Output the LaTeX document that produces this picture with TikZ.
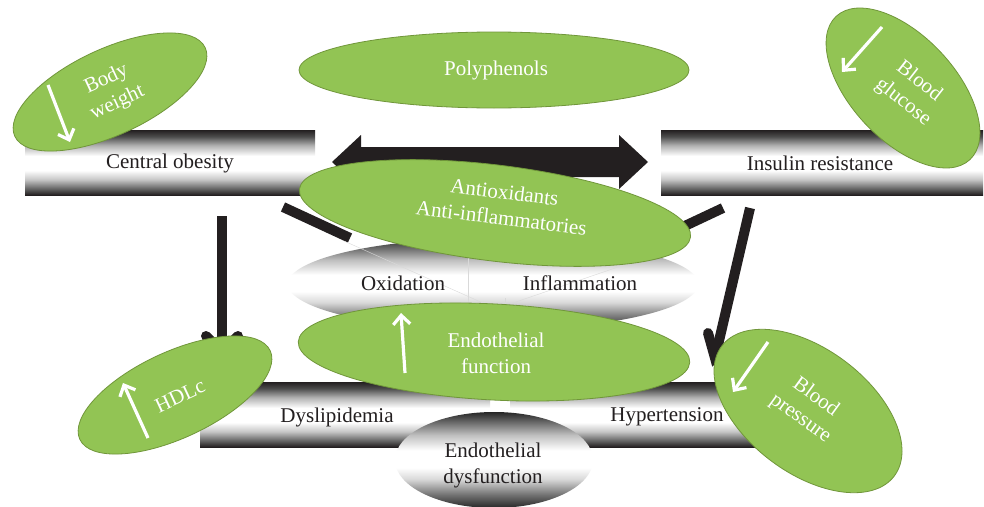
\documentclass[tikz,border=0pt]{standalone}
\usepackage{fontspec}
\setmainfont{Liberation Serif}
\usetikzlibrary{shapes.geometric,arrows.meta}
\definecolor{leaf}{RGB}{146,196,84}
\definecolor{leafedge}{RGB}{112,150,58}
\definecolor{ink}{RGB}{35,31,32}
\pgfdeclareverticalshading{barshade}{100bp}{color(0bp)=(ink); color(25bp)=(ink); color(30bp)=(black!60); color(37bp)=(black!22); color(44bp)=(white); color(55bp)=(white); color(63bp)=(black!30); color(70bp)=(black!70); color(75bp)=(ink); color(100bp)=(ink)}
\pgfdeclareverticalshading{ovalshade}{100bp}{color(0bp)=(black!85); color(25bp)=(black!85); color(32bp)=(black!55); color(40bp)=(black!15); color(46bp)=(white); color(55bp)=(white); color(63bp)=(black!25); color(70bp)=(black!60); color(75bp)=(black!85); color(100bp)=(black!85)}
\begin{document}
\begin{tikzpicture}[x=1pt,y=-1pt,
  txt/.style={font=\fontsize{21}{26}\selectfont, align=center, inner sep=0pt},
  wtxt/.style={txt, text=white},
  dtxt/.style={txt, text=ink},
  leafoval/.style={ellipse, fill=leaf, draw=leafedge, line width=0.8pt, inner sep=0pt},
  greyoval/.style={ellipse, shade, shading=ovalshade, inner sep=0pt},
  barbox/.style={rectangle, shade, shading=barshade, inner sep=0pt},
  conn/.style={line width=10pt, draw=ink},
  wing/.style={line width=10pt, draw=ink, line cap=round},
  wharrow/.style={draw=white, line width=3.2pt, -{Straight Barb[length=9pt,width=17pt]}},
  faint/.style={draw=black!15, line width=0.4pt}
]
\useasboundingbox[fill=white] (0,0) rectangle (984,506);

% ---- connectors (behind everything) ----
\coordinate (la) at (222,216);
\coordinate (lb) at (222,352);
\coordinate (lw1) at (206,336);
\coordinate (lw2) at (238,336);
\draw[conn] (la) -- (lb);
\draw[wing] (lw1) -- (lb) -- (lw2);

\coordinate (da) at (283,207);
\coordinate (db) at (350,238);
\draw[conn] (da) -- (db);

\coordinate (ea) at (723,208);
\coordinate (eb) at (672,232);
\draw[conn] (ea) -- (eb);

\coordinate (ra) at (750,208);
\coordinate (rb) at (715,358);
\coordinate (rw1) at (708,333);
\coordinate (rw2) at (738,340);
\draw[conn] (ra) -- (rb);
\draw[wing] (rw1) -- (rb) -- (rw2);

% ---- top bars ----
\node[barbox, minimum width=290pt, minimum height=65pt] (co) at (170,162.5) {};
\node[barbox, minimum width=322pt, minimum height=65pt] (ir) at (822,162.5) {};
\node[dtxt] (cot) at (170,163) {Central obesity};
\node[dtxt] (irt) at (820,163) {Insulin resistance};

% ---- double block arrow ----
\fill[ink] (332,162) -- (361,135) -- (361,147) -- (619,147) -- (619,135)
  -- (648,162) -- (619,189) -- (619,177) -- (361,177) -- (361,189) -- cycle;

% ---- oxidation / inflammation oval ----
\node[greyoval, minimum width=410pt, minimum height=92pt] (ox) at (493,284) {};
\draw[faint] (468.5,251) -- (468.5,338);
\draw[faint] (505,298) -- (505,338);
\draw[faint] (344,241) -- (503,312);
\draw[faint] (659,253) -- (507,305);
\node[dtxt] (oxt) at (403,283) {Oxidation};
\node[dtxt] (inft) at (580,283) {Inflammation};

% ---- bottom bars ----
\node[barbox, minimum width=290pt, minimum height=65pt] (dy) at (345,414.5) {};
\node[barbox, minimum width=265pt, minimum height=65pt] (hy) at (642.5,414.5) {};
\node[dtxt] (dyt) at (337,417) {Dyslipidemia};
\node[dtxt] (hyt) at (667,417) {Hypertension};

% ---- endothelial dysfunction ----
\node[greyoval, minimum width=198pt, minimum height=96pt] (ed) at (494,460) {};
\node[dtxt] (edt) at (493,465) {Endothelial\\dysfunction};

% ---- green ovals ----
\node[leafoval, minimum width=390pt, minimum height=76pt] (pp) at (494,70) {};
\node[wtxt] (ppt) at (496,70) {Polyphenols};

\node[leafoval, minimum width=394pt, minimum height=96pt, rotate=-7] (ao) at (495,213) {};
\node[wtxt, rotate=-7] (aot) at (503,205) {Antioxidants\\Anti-inflammatories};

\node[leafoval, minimum width=392pt, minimum height=96pt, rotate=-3] (ef) at (494,352) {};
\node[wtxt] (eft) at (496,353) {Endothelial\\function};
\coordinate (efa) at (405,373);
\coordinate (efb) at (401,313);
\draw[wharrow] (efa) -- (efb);

\node[leafoval, minimum width=210pt, minimum height=86pt, rotate=25] (bw) at (110,92) {};
\node[wtxt, rotate=25] (bwt) at (112,91) {Body\\weight};
\coordinate (bwa) at (48,85);
\coordinate (bwb) at (70,142);
\draw[wharrow] (bwa) -- (bwb);

\node[leafoval, minimum width=196pt, minimum height=104pt, rotate=-47] (bg) at (903,88) {};
\node[wtxt, rotate=-38] (bgt) at (911,92) {Blood\\glucose};
\coordinate (bga) at (882,27);
\coordinate (bgb) at (842,72);
\draw[wharrow] (bga) -- (bgb);

\node[leafoval, minimum width=210pt, minimum height=86pt, rotate=25] (hd) at (175,395) {};
\node[wtxt, rotate=25] (hdt) at (180,396) {HDLc};
\coordinate (hda) at (148,438);
\coordinate (hdb) at (123,383);
\draw[wharrow] (hda) -- (hdb);

\node[leafoval, minimum width=216pt, minimum height=124pt, rotate=-37] (bp) at (808,411) {};
\node[wtxt, rotate=-36] (bpt) at (808,408) {Blood\\pressure};
\coordinate (bpa) at (768,342);
\coordinate (bpb) at (733,392);
\draw[wharrow] (bpa) -- (bpb);
\end{tikzpicture}
\end{document}
